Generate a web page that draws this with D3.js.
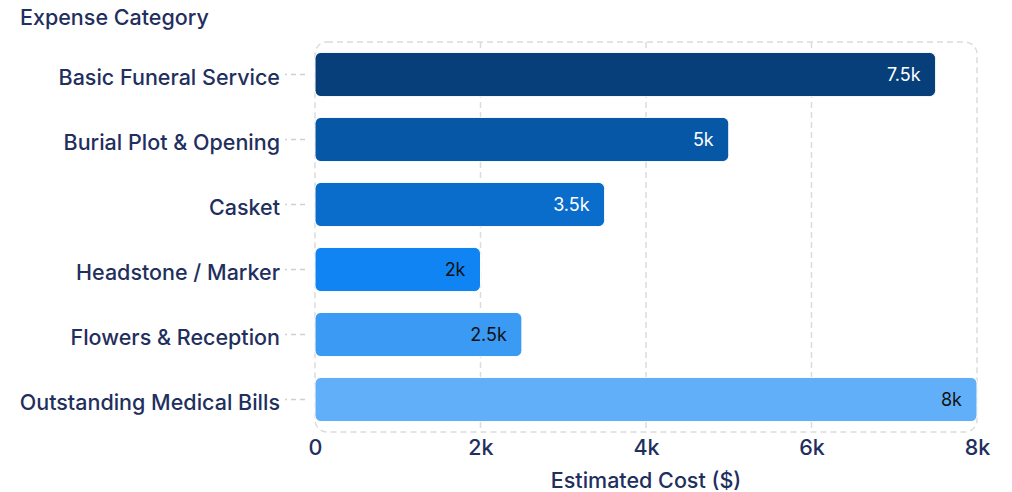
<!DOCTYPE html>
<html>
<head>
<meta charset="utf-8">
<script src="https://cdn.jsdelivr.net/npm/d3@7"></script>
<style>
  body { margin: 0; background: #fff; }
  svg { font-family: Inter, "Noto Sans", sans-serif; }
</style>
</head>
<body>
<div id="chart"></div>
<script>
// chart data
var categories = ["Basic Funeral Service", "Burial Plot & Opening", "Casket",
                  "Headstone / Marker", "Flowers & Reception", "Outstanding Medical Bills"];
var costs = [7500, 5000, 3500, 2000, 2500, 8000];
var barColors = ["#063f7a", "#0657a5", "#0a6dcc", "#0f84f2", "#3a9af4", "#61aff9"];
var labelColors = ["#fff", "#fff", "#fff", "#111", "#111", "#111"];
var xTicks = [0, 2000, 4000, 6000, 8000];

var width = 1012, height = 492;
var margin = { top: 42, right: 35, bottom: 60, left: 315 };
var textColor = "#1f2f5e";
var fontSize = "21.5px";

var svg = d3.select("#chart").append("svg")
    .attr("width", width)
    .attr("height", height);

var x = d3.scaleLinear()
    .domain([0, 8000])
    .range([margin.left, width - margin.right]);

var y = d3.scaleBand()
    .domain(categories)
    .range([margin.top, height - margin.bottom])
    .paddingInner(0.32)
    .paddingOuter(0.16);

var fmt = function(v) { return v === 0 ? "0" : (v / 1000) + "k"; };

// plot border
svg.append("rect")
    .attr("x", x(0))
    .attr("y", margin.top)
    .attr("width", x(8000) - x(0))
    .attr("height", height - margin.bottom - margin.top)
    .attr("rx", 12)
    .attr("fill", "none")
    .attr("stroke", "#dcdcdc")
    .attr("stroke-width", 1.5)
    .attr("stroke-dasharray", "6,4");

// grid lines
svg.selectAll("line.grid")
    .data(xTicks.slice(1, -1)).enter()
    .append("line")
    .attr("class", "grid")
    .attr("x1", function(d) { return x(d); })
    .attr("x2", function(d) { return x(d); })
    .attr("y1", margin.top)
    .attr("y2", height - margin.bottom)
    .attr("stroke", "#dcdcdc")
    .attr("stroke-width", 1.5)
    .attr("stroke-dasharray", "6,4");

// x axis
var xAxis = svg.append("g")
    .attr("transform", "translate(0," + (height - margin.bottom) + ")")
    .call(d3.axisBottom(x).tickValues(xTicks).tickFormat(fmt).tickSize(0).tickPadding(8))
    .attr("font-family", null)
    .attr("font-size", null);
xAxis.select(".domain").remove();
xAxis.selectAll("text")
    .attr("fill", textColor)
    .style("font-size", fontSize)
    .style("font-weight", 500);

// y axis
var yAxis = svg.append("g")
    .attr("transform", "translate(" + (x(0) - 10) + ",0)")
    .call(d3.axisLeft(y).tickSize(20).tickPadding(5))
    .attr("font-family", null)
    .attr("font-size", null);
yAxis.select(".domain").remove();
yAxis.selectAll("line")
    .attr("stroke", "#d0d0d0")
    .attr("stroke-width", 1.5)
    .attr("stroke-dasharray", "5,4");
yAxis.selectAll("text")
    .attr("fill", textColor)
    .attr("dy", "0.5em")
    .style("font-size", fontSize)
    .style("font-weight", 500);

// bars
svg.selectAll("rect.bar")
    .data(categories).enter()
    .append("rect")
    .attr("class", "bar")
    .attr("x", x(0))
    .attr("y", function(d) { return y(d); })
    .attr("width", function(d, i) { return x(costs[i]) - x(0); })
    .attr("height", y.bandwidth())
    .attr("rx", 6)
    .attr("fill", function(d, i) { return barColors[i]; })
    .attr("stroke", "#fff")
    .attr("stroke-width", 1);

// value labels
svg.selectAll("text.value")
    .data(categories).enter()
    .append("text")
    .attr("class", "value")
    .attr("x", function(d, i) { return x(costs[i]) - 15; })
    .attr("y", function(d) { return y(d) + y.bandwidth() / 2; })
    .attr("dy", "0.36em")
    .attr("text-anchor", "end")
    .attr("fill", function(d, i) { return labelColors[i]; })
    .style("font-size", "18px")
    .text(function(d, i) { return fmt(costs[i]); });

// axis titles
svg.append("text")
    .attr("x", 20)
    .attr("y", 25)
    .attr("fill", textColor)
    .style("font-size", fontSize)
    .style("font-weight", 500)
    .text("Expense Category");

svg.append("text")
    .attr("x", (x(0) + x(8000)) / 2)
    .attr("y", 488)
    .attr("text-anchor", "middle")
    .attr("fill", textColor)
    .style("font-size", fontSize)
    .style("font-weight", 500)
    .text("Estimated Cost ($)");
</script>
</body>
</html>
